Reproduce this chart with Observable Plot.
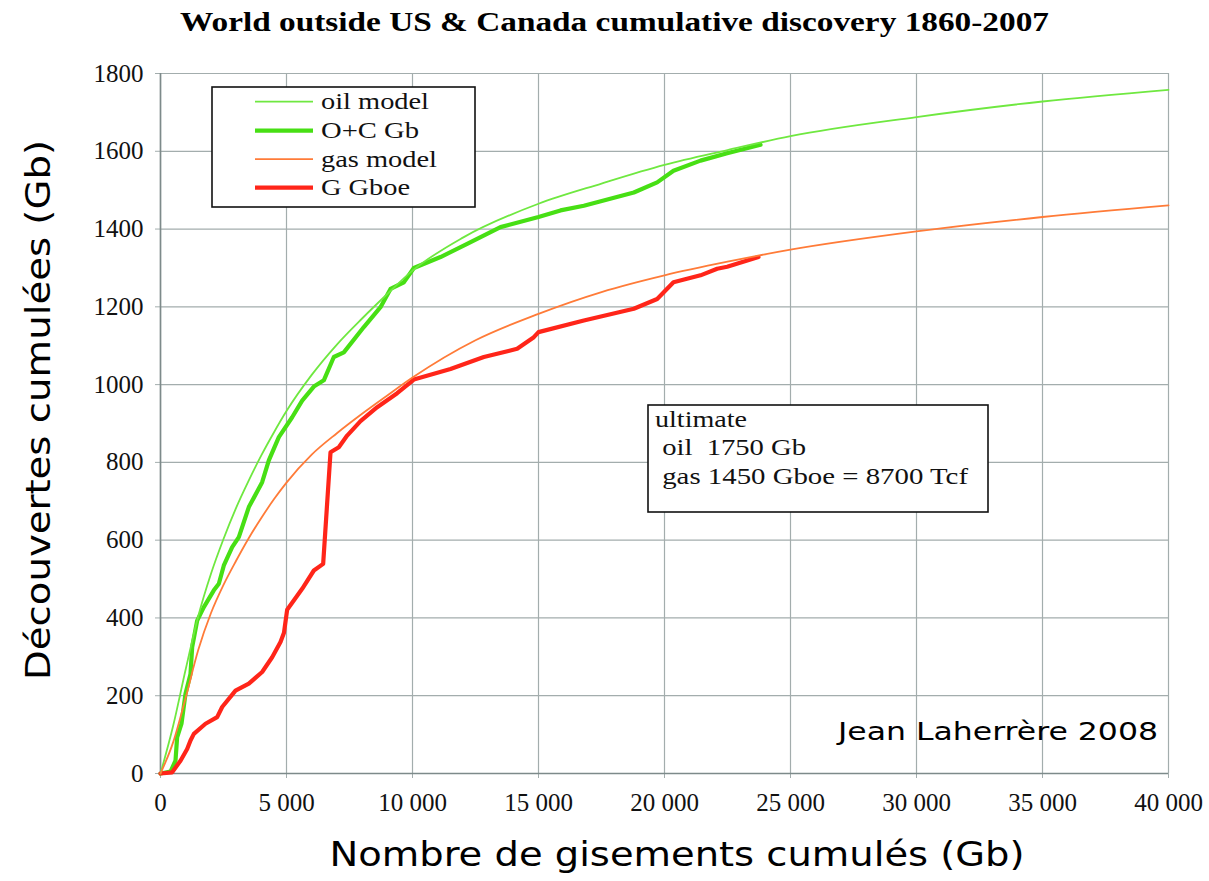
<!DOCTYPE html>
<html>
<head>
<meta charset="utf-8">
<script src="https://cdn.jsdelivr.net/npm/d3@7"></script>
<script src="https://cdn.jsdelivr.net/npm/@observablehq/plot@0.6"></script>
<style>
  html, body { margin: 0; padding: 0; background: #fff; }
  #chart svg { display: block; }
</style>
</head>
<body>
<div id="chart"></div>
<script>
// ---- Data ----
const titleText = "World outside US & Canada cumulative discovery 1860-2007";
const xLabel = "Nombre de gisements cumulés (Gb)";
const yLabel = "Découvertes cumulées (Gb)";
const credit = "Jean Laherrère 2008";

const xTicks = [0, 5000, 10000, 15000, 20000, 25000, 30000, 35000, 40000];
const xTickLabels = ["0", "5 000", "10 000", "15 000", "20 000", "25 000", "30 000", "35 000", "40 000"];
const yTicks = [0, 200, 400, 600, 800, 1000, 1200, 1400, 1600, 1800];
const yTickLabels = ["0", "200", "400", "600", "800", "1000", "1200", "1400", "1600", "1800"];

const seriesNames = ["oil model", "O+C Gb", "gas model", "G Gboe"];
const seriesColors = ["#6fe840", "#47df14", "#ff7b38", "#ff2519"];
const seriesWidths = [1.8, 4.2, 1.8, 4.2];

const annotationLines = ["ultimate", " oil  1750 Gb", " gas 1450 Gboe = 8700 Tcf"];

const oilModel = [
  [0, 0], [500, 122], [1000, 268], [1500, 405], [2000, 513], [2500, 603], [3000, 683],
  [3500, 753], [4000, 818], [4500, 877], [5000, 932], [6000, 1025], [7000, 1103],
  [8000, 1170], [9000, 1233], [10000, 1293], [12000, 1378], [15000, 1465],
  [17500, 1517], [20000, 1565], [22500, 1603], [25000, 1639], [30000, 1688],
  [35000, 1728], [40000, 1758]
];

const ocGb = [
  [0, 0], [397, 5], [595, 33], [660, 93], [833, 128], [992, 205], [1190, 256],
  [1257, 325], [1455, 393], [1720, 428], [2116, 471], [2315, 488], [2513, 535],
  [2844, 582], [3108, 608], [3505, 685], [4034, 749], [4299, 805], [4696, 865],
  [5225, 916], [5622, 959], [6085, 995], [6481, 1011], [6878, 1071], [7275, 1083],
  [8069, 1148], [8730, 1199], [9127, 1246], [9656, 1263], [10053, 1300],
  [11111, 1328], [12169, 1362], [13492, 1405], [15000, 1431], [15873, 1448],
  [16799, 1460], [18783, 1494], [19709, 1520], [20357, 1550], [21429, 1576],
  [22487, 1595], [23810, 1617]
];

const gasModel = [
  [0, 0], [500, 80], [1000, 195], [1500, 318], [2000, 412], [2500, 485], [3000, 547],
  [3500, 605], [4000, 657], [4500, 705], [5000, 748], [6000, 820], [7000, 875],
  [8000, 925], [9000, 972], [10000, 1018], [12500, 1114], [15000, 1182],
  [17500, 1238], [20000, 1281], [22500, 1316], [25000, 1347], [30000, 1394],
  [35000, 1431], [40000, 1461]
];

const gGboe = [
  [0, 0], [463, 3], [794, 33], [1058, 63], [1190, 85], [1323, 102], [1786, 128],
  [2249, 145], [2447, 171], [2976, 213], [3505, 231], [4034, 261], [4431, 299],
  [4762, 338], [4900, 362], [5026, 421], [5622, 475], [6085, 522], [6455, 539],
  [6746, 826], [7076, 839], [7407, 869], [7937, 906], [8598, 942], [9392, 978],
  [10053, 1013], [11508, 1040], [12831, 1071], [14153, 1092], [14815, 1122],
  [15000, 1135], [16799, 1165], [18783, 1195], [19709, 1220], [20357, 1263],
  [21429, 1281], [22090, 1298], [22487, 1303], [23730, 1328]
];

// ---- Chart ----
const gridColor = "#a3adad";
const axisColor = "#7d8a8a";
const serif = "'Liberation Serif', 'Times New Roman', serif";
const hand = "'DejaVu Sans', sans-serif";

const px = d => d[0], py = d => d[1];

const chart = Plot.plot({
  width: 1209,
  height: 881,
  marginTop: 73,
  marginBottom: 108,
  marginLeft: 160,
  marginRight: 41,
  style: { background: "#fff", overflow: "visible" },
  x: { domain: [0, 40000], ticks: xTicks },
  y: { domain: [0, 1800], ticks: yTicks },
  marks: [
    Plot.gridX(xTicks, { stroke: gridColor, strokeOpacity: 1, strokeWidth: 1.2 }),
    Plot.gridY(yTicks, { stroke: gridColor, strokeOpacity: 1, strokeWidth: 1.2 }),
    Plot.axisX(xTicks, {
      tickSize: 5, tickPadding: 15, stroke: gridColor,
      tickFormat: d => xTickLabels[xTicks.indexOf(d)],
      fontSize: 25, fontFamily: serif, fill: "#111", label: null
    }),
    Plot.axisY(yTicks, {
      tickSize: 5, tickPadding: 12, stroke: gridColor,
      tickFormat: d => yTickLabels[yTicks.indexOf(d)],
      fontSize: 25, fontFamily: serif, fill: "#111", label: null
    }),
    Plot.ruleY([0], { stroke: axisColor, strokeWidth: 1.6 }),
    Plot.ruleX([0], { stroke: axisColor, strokeWidth: 1.6 }),
    Plot.line(ocGb, { x: px, y: py, stroke: seriesColors[1], strokeWidth: seriesWidths[1], strokeLinejoin: "round" }),
    Plot.line(gGboe, { x: px, y: py, stroke: seriesColors[3], strokeWidth: seriesWidths[3], strokeLinejoin: "round" }),
    Plot.line(oilModel, { x: px, y: py, stroke: seriesColors[0], strokeWidth: seriesWidths[0], curve: "monotone-x" }),
    Plot.line(gasModel, { x: px, y: py, stroke: seriesColors[2], strokeWidth: seriesWidths[2], curve: "monotone-x" })
  ]
});

const svg = d3.select(chart);

function addText(x, y, str, opts) {
  const t = svg.append("text")
    .attr("x", x).attr("y", y)
    .attr("font-family", opts.family || serif)
    .attr("font-size", opts.size || 20)
    .attr("font-weight", opts.weight || "normal")
    .attr("fill", opts.fill || "#111")
    .attr("text-anchor", opts.anchor || "start")
    .style("white-space", "pre")
    .text(str);
  if (opts.length) t.attr("textLength", opts.length).attr("lengthAdjust", "spacingAndGlyphs");
  if (opts.transform) t.attr("transform", opts.transform);
  return t;
}

// Title
addText(614.5, 31, titleText, { size: 28, weight: "bold", anchor: "middle", length: 869, fill: "#000" });

// Axis labels
addText(677, 866, xLabel, { family: hand, size: 34, anchor: "middle", length: 695, fill: "#000" });
addText(0, 0, yLabel, { family: hand, size: 34, anchor: "middle", length: 540, fill: "#000",
  transform: "translate(50,410) rotate(-90)" });

// Legend
svg.append("rect").attr("x", 212).attr("y", 87).attr("width", 263).attr("height", 120)
  .attr("fill", "#fff").attr("stroke", "#111").attr("stroke-width", 1.6);
const legendY = [101.7, 130.7, 159.2, 187.7];
const legendLen = [108, 98, 116, 89];
seriesNames.forEach((name, i) => {
  svg.append("line").attr("x1", 255).attr("x2", 313).attr("y1", legendY[i]).attr("y2", legendY[i])
    .attr("stroke", seriesColors[i]).attr("stroke-width", seriesWidths[i]);
  addText(321, legendY[i] + 7.5, name, { size: 24, length: legendLen[i] });
});

// Annotation box
svg.append("rect").attr("x", 648).attr("y", 405).attr("width", 340).attr("height", 107)
  .attr("fill", "#fff").attr("stroke", "#111").attr("stroke-width", 1.6);
addText(655, 426.5, annotationLines[0], { size: 23, length: 92 });
addText(655, 455, annotationLines[1], { size: 23, length: 151 });
addText(655, 483.5, annotationLines[2], { size: 23, length: 313 });

// Credit
addText(1158, 740, credit, { family: hand, size: 25, anchor: "end", length: 320, fill: "#000" });

document.getElementById("chart").appendChild(chart);
</script>
</body>
</html>
